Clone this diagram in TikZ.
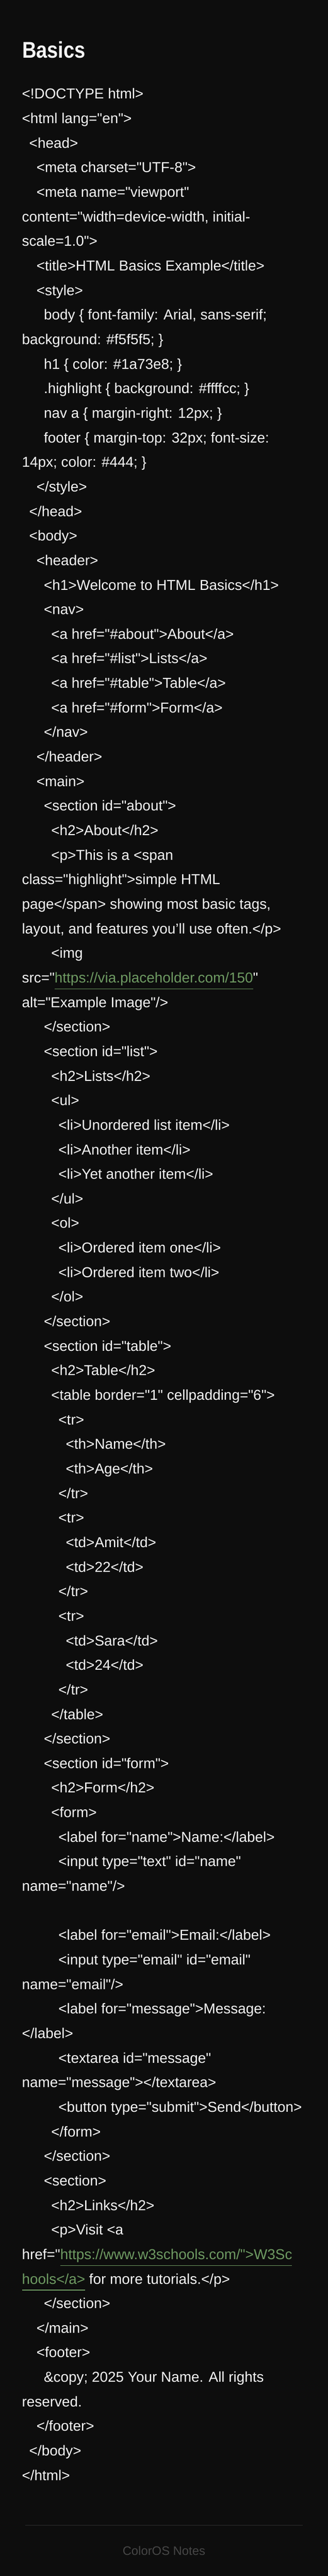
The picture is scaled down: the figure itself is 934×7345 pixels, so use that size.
\documentclass[tikz,border=0pt]{standalone}
\usepackage{fontspec}
\newfontfamily\codefont[Ligatures=TeXOff]{Liberation Sans}
\newfontfamily\titlefont[Ligatures=TeXOff,FakeStretch=0.86]{Liberation Sans}
\definecolor{bgc}{HTML}{0D0D0D}
\definecolor{fgc}{HTML}{F5F5F5}
\definecolor{lkc}{HTML}{6E9A62}
\definecolor{rulec}{HTML}{2E2E2E}
\definecolor{footc}{HTML}{474747}
\tikzset{
  code/.style={anchor=base west, inner sep=0pt, outer sep=0pt, text=fgc,
    font=\codefont\fontsize{41}{70}\selectfont},
  linktext/.style={code, text=lkc},
  linkline/.style={draw=lkc, line width=2.3pt},
  titletext/.style={anchor=base west, inner sep=0pt, text=fgc,
    font=\titlefont\bfseries\fontsize{65}{70}\selectfont},
  brandtext/.style={anchor=base, inner sep=0pt, text=footc,
    font=\codefont\fontsize{35}{40}\selectfont},
  sepline/.style={draw=rulec, line width=1.6pt}
}
\newcommand\codeln[4]{\node[code] (#1) at ({62.5+20.83*#2},{-#3}) {#4};}
\begin{document}
\begin{tikzpicture}[x=1pt,y=1pt]
\fill[bgc] (0,0) rectangle (934,-7345);
\useasboundingbox (0,0) rectangle (934,-7345);
\node[titletext] (title) at (63,-165) {Basics};
\codeln{l0}{0}{282}{<!DOCTYPE html>}
\codeln{l1}{0}{352}{<html lang="en">}
\codeln{l2}{1}{422}{<head>}
\codeln{l3}{2}{492}{<meta charset="UTF-8">}
\codeln{l4}{2}{562}{<meta name="viewport"}
\codeln{l5}{0}{632}{content="width=device-width, initial-}
\codeln{l6}{0}{702}{scale=1.0">}
\codeln{l7}{2}{772}{<title>HTML Basics Example</title>}
\codeln{l8}{2}{842}{<style>}
\codeln{l9}{3}{912}{body \{ font-family: Arial, sans-serif;}
\codeln{l10}{0}{982}{background: \#f5f5f5; \}}
\codeln{l11}{3}{1052}{h1 \{ color: \#1a73e8; \}}
\codeln{l12}{3}{1122}{.highlight \{ background: \#ffffcc; \}}
\codeln{l13}{3}{1192}{nav a \{ margin-right: 12px; \}}
\codeln{l14}{3}{1262}{footer \{ margin-top: 32px; font-size:}
\codeln{l15}{0}{1332}{14px; color: \#444; \}}
\codeln{l16}{2}{1402}{</style>}
\codeln{l17}{1}{1472}{</head>}
\codeln{l18}{1}{1542}{<body>}
\codeln{l19}{2}{1612}{<header>}
\codeln{l20}{3}{1682}{<h1>Welcome to HTML Basics</h1>}
\codeln{l21}{3}{1752}{<nav>}
\codeln{l22}{4}{1822}{<a href="\#about">About</a>}
\codeln{l23}{4}{1892}{<a href="\#list">Lists</a>}
\codeln{l24}{4}{1962}{<a href="\#table">Table</a>}
\codeln{l25}{4}{2032}{<a href="\#form">Form</a>}
\codeln{l26}{3}{2102}{</nav>}
\codeln{l27}{2}{2172}{</header>}
\codeln{l28}{2}{2242}{<main>}
\codeln{l29}{3}{2312}{<section id="about">}
\codeln{l30}{4}{2382}{<h2>About</h2>}
\codeln{l31}{4}{2452}{<p>This is a <span}
\codeln{l32}{0}{2522}{class="highlight">simple HTML}
\codeln{l33}{0}{2592}{page</span> showing most basic tags,}
\codeln{l34}{0}{2662}{layout, and features you’ll use often.</p>}
\codeln{l35}{4}{2732}{<img}
\codeln{l36}{0}{2802}{src="}
\node[linktext] (l36u) at (l36.base east) {https://via.placeholder.com/150};
\node[code] (l36e) at (l36u.base east) {"};
\draw[linkline] ([yshift=-18pt]l36u.base west) -- ([yshift=-18pt]l36u.base east);
\codeln{l37}{0}{2872}{alt="Example Image"/>}
\codeln{l38}{3}{2942}{</section>}
\codeln{l39}{3}{3012}{<section id="list">}
\codeln{l40}{4}{3082}{<h2>Lists</h2>}
\codeln{l41}{4}{3152}{<ul>}
\codeln{l42}{5}{3222}{<li>Unordered list item</li>}
\codeln{l43}{5}{3292}{<li>Another item</li>}
\codeln{l44}{5}{3362}{<li>Yet another item</li>}
\codeln{l45}{4}{3432}{</ul>}
\codeln{l46}{4}{3502}{<ol>}
\codeln{l47}{5}{3572}{<li>Ordered item one</li>}
\codeln{l48}{5}{3642}{<li>Ordered item two</li>}
\codeln{l49}{4}{3712}{</ol>}
\codeln{l50}{3}{3782}{</section>}
\codeln{l51}{3}{3852}{<section id="table">}
\codeln{l52}{4}{3922}{<h2>Table</h2>}
\codeln{l53}{4}{3992}{<table border="1" cellpadding="6">}
\codeln{l54}{5}{4062}{<tr>}
\codeln{l55}{6}{4132}{<th>Name</th>}
\codeln{l56}{6}{4202}{<th>Age</th>}
\codeln{l57}{5}{4272}{</tr>}
\codeln{l58}{5}{4342}{<tr>}
\codeln{l59}{6}{4412}{<td>Amit</td>}
\codeln{l60}{6}{4482}{<td>22</td>}
\codeln{l61}{5}{4552}{</tr>}
\codeln{l62}{5}{4622}{<tr>}
\codeln{l63}{6}{4692}{<td>Sara</td>}
\codeln{l64}{6}{4762}{<td>24</td>}
\codeln{l65}{5}{4832}{</tr>}
\codeln{l66}{4}{4902}{</table>}
\codeln{l67}{3}{4972}{</section>}
\codeln{l68}{3}{5042}{<section id="form">}
\codeln{l69}{4}{5112}{<h2>Form</h2>}
\codeln{l70}{4}{5182}{<form>}
\codeln{l71}{5}{5252}{<label for="name">Name:</label>}
\codeln{l72}{5}{5322}{<input type="text" id="name"}
\codeln{l73}{0}{5392}{name="name"/>}
\codeln{l75}{5}{5532}{<label for="email">Email:</label>}
\codeln{l76}{5}{5602}{<input type="email" id="email"}
\codeln{l77}{0}{5672}{name="email"/>}
\codeln{l78}{5}{5742}{<label for="message">Message:}
\codeln{l79}{0}{5812}{</label>}
\codeln{l80}{5}{5882}{<textarea id="message"}
\codeln{l81}{0}{5952}{name="message"></textarea>}
\codeln{l82}{5}{6022}{<button type="submit">Send</button>}
\codeln{l83}{4}{6092}{</form>}
\codeln{l84}{3}{6162}{</section>}
\codeln{l85}{3}{6232}{<section>}
\codeln{l86}{4}{6302}{<h2>Links</h2>}
\codeln{l87}{4}{6372}{<p>Visit <a}
\codeln{l88}{0}{6442}{href="}
\node[linktext] (l88u) at (l88.base east) {https://www.w3schools.com/">W3Sc};
\draw[linkline] ([yshift=-18pt]l88u.base west) -- ([yshift=-18pt]l88u.base east);
\node[linktext] (l89u) at (62.5,-6512) {hools</a>};
\node[code] (l89e) at ([xshift=11.4pt]l89u.base east) {for more tutorials.</p>};
\draw[linkline] ([yshift=-18pt]l89u.base west) -- ([yshift=-18pt]l89u.base east);
\codeln{l90}{3}{6582}{</section>}
\codeln{l91}{2}{6652}{</main>}
\codeln{l92}{2}{6722}{<footer>}
\codeln{l93}{3}{6792}{\&copy; 2025 Your Name. All rights}
\codeln{l94}{0}{6862}{reserved.}
\codeln{l95}{2}{6932}{</footer>}
\codeln{l96}{1}{7002}{</body>}
\codeln{l97}{0}{7072}{</html>}
\coordinate (sepL) at (72,-7200);
\coordinate (sepR) at (862,-7200);
\draw[sepline] (sepL) -- (sepR);
\node[brandtext] (brand) at (467,-7286) {ColorOS Notes};
\end{tikzpicture}
\end{document}
